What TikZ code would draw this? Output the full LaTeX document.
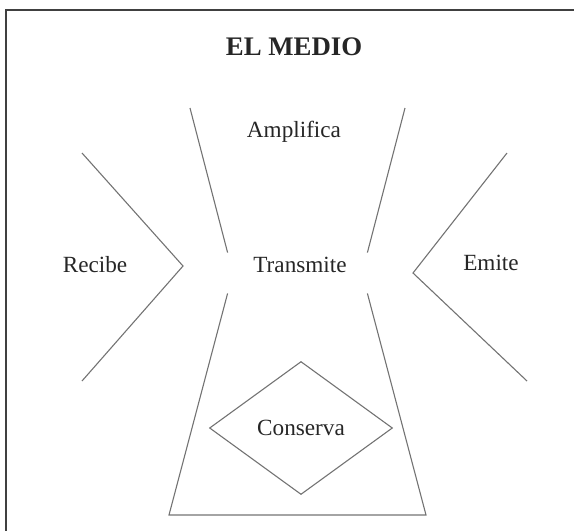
\documentclass[tikz,border=0pt]{standalone}
\usepackage{fontspec}
\setmainfont{Liberation Serif}
\usetikzlibrary{shapes.geometric}
\tikzset{
	word/.style={font=\fontsize{11.6}{14}\selectfont, text=black!85},
	edge/.style={draw=black!55, line width=0.55pt},
}
\begin{document}
\begin{tikzpicture}[x=0.5pt,y=-0.5pt]%
	\useasboundingbox (0,0) rectangle (574,531);
	% frame, cut off on the right and at the bottom
	\draw[black!75, line width=1pt] (574,10) -- (6,10) -- (6,531);
	\node[font=\bfseries\fontsize{13.4}{16}\selectfont, text=black!85] (title) at (294,47) {EL MEDIO};
	\node[word] (ampl) at (294,132) {Amplifica};
	\node[word, minimum width=69.5pt, minimum height=20pt, inner sep=0pt] (trans) at (297.5,273) {};
	\node[word] (transtxt) at (300,265) {Transmite};
	\node[word] (recv) at (95,265) {Recibe};
	\node[word] (emit) at (491,263) {Emite};
	\node[word, diamond, draw=black!55, line width=0.55pt, inner sep=0pt,
		minimum width=91.5pt, minimum height=66.5pt, aspect=1.376] (cons) at (301,428) {Conserva};
	% free ends
	\coordinate (ampl l) at (190,108);
	\coordinate (ampl r) at (405,108);
	\coordinate (base l) at (169,515);
	\coordinate (base r) at (426,515);
	\coordinate (recv t) at (82,153);
	\coordinate (recv v) at (183,266);
	\coordinate (recv b) at (82,381);
	\coordinate (emit t) at (507,153);
	\coordinate (emit v) at (413,273);
	\coordinate (emit b) at (527,381);
	\draw[edge] (ampl l) -- (trans.north west);
	\draw[edge] (ampl r) -- (trans.north east);
	\draw[edge] (trans.south west) -- (base l) -- (base r) -- (trans.south east);
	\draw[edge] (recv t) -- (recv v) -- (recv b);
	\draw[edge] (emit t) -- (emit v) -- (emit b);
\end{tikzpicture}
\end{document}
